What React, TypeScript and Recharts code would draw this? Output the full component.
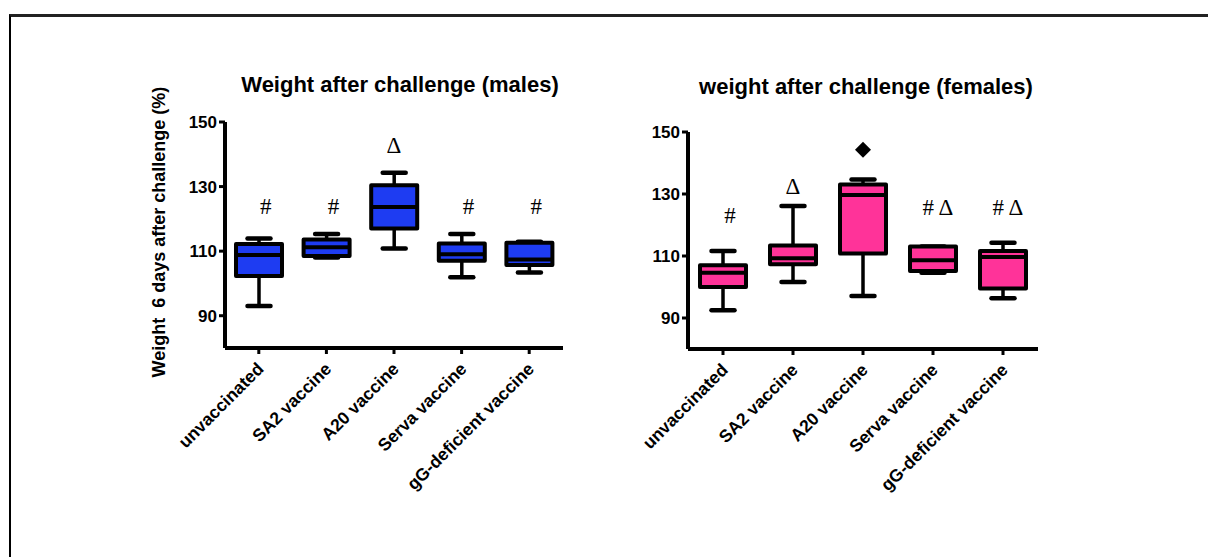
import React from 'react';
import { ComposedChart, Bar, Scatter, XAxis, YAxis } from 'recharts';

const categories = ['unvaccinated', 'SA2 vaccine', 'A20 vaccine', 'Serva vaccine', 'gG-deficient vaccine'];
const yTicks = [90, 110, 130, 150];

// males
const maleMin = [93, 108, 110.8, 101.9, 103.4];
const maleQ1 = [102.3, 108.5, 117, 107, 105.7];
const maleMedian = [108.8, 111.2, 123.7, 109, 107.4];
const maleQ3 = [112.2, 113.6, 130.4, 112.4, 112.6];
const maleMax = [113.9, 115.3, 134.3, 115.3, 112.9];
const maleMarks = ['#', '#', 'Δ', '#', '#'];
const maleMarkY = [123.7, 123.7, 142.8, 123.7, 123.7];
const maleOutlier: (number | null)[] = [null, null, null, null, null];

// females
const femMin = [92.5, 101.6, 97.1, 104.6, 96.4];
const femQ1 = [100, 107.3, 110.8, 105.2, 99.5];
const femMedian = [104.6, 109.3, 129.7, 108.6, 109.7];
const femQ3 = [107, 113.4, 133.1, 113.1, 111.6];
const femMax = [111.6, 126.1, 134.7, 113.1, 114.3];
const femMarks = ['#', 'Δ', '', '# Δ', '# Δ'];
const femMarkY: (number | null)[] = [123, 132.5, null, 125.8, 125.8];
const femOutlier: (number | null)[] = [null, null, 144.3, null, null];

const build = (min: number[], q1: number[], med: number[], q3: number[], max: number[], marks: string[], markY: (number | null)[], outl: (number | null)[]) =>
  categories.map((cat, i) => ({
    cat,
    min: min[i],
    q1: q1[i],
    median: med[i],
    q3: q3[i],
    max: max[i],
    mark: marks[i],
    markY: markY[i],
    outlier: outl[i],
  }));

const maleData = build(maleMin, maleQ1, maleMedian, maleQ3, maleMax, maleMarks, maleMarkY, maleOutlier);
const femData = build(femMin, femQ1, femMedian, femQ3, femMax, femMarks, femMarkY, femOutlier);

const SANS = '"Liberation Sans", Arial, sans-serif';
const SERIF = '"Liberation Serif", "Times New Roman", serif';

const BoxShape = (props: any) => {
  const { x, y, width, height, payload, fill } = props;
  if (!payload) return <g />;
  const top = Math.min(y, y + height);
  const bot = Math.max(y, y + height);
  const span = payload.max - payload.min || 1;
  const yOf = (v: number) => top + ((payload.max - v) / span) * (bot - top);
  const cx = x + width / 2;
  const cap = width * 0.5;
  return (
    <g>
      <line x1={cx} x2={cx} y1={yOf(payload.max)} y2={yOf(payload.q3)} stroke="#000" strokeWidth={3.5} />
      <line x1={cx} x2={cx} y1={yOf(payload.q1)} y2={yOf(payload.min)} stroke="#000" strokeWidth={3.5} />
      <line x1={cx - cap / 2} x2={cx + cap / 2} y1={yOf(payload.max)} y2={yOf(payload.max)} stroke="#000" strokeWidth={4.5} strokeLinecap="round" />
      <line x1={cx - cap / 2} x2={cx + cap / 2} y1={yOf(payload.min)} y2={yOf(payload.min)} stroke="#000" strokeWidth={4.5} strokeLinecap="round" />
      <rect x={x} y={yOf(payload.q3)} width={width} height={yOf(payload.q1) - yOf(payload.q3)} fill={fill} stroke="#000" strokeWidth={4} strokeLinejoin="round" />
      <line x1={x} x2={x + width} y1={yOf(payload.median)} y2={yOf(payload.median)} stroke="#000" strokeWidth={4} />
    </g>
  );
};

const MarkShape = (props: any) => {
  const { cx, cy, payload } = props;
  if (!payload || !payload.mark || !isFinite(cy)) return <g />;
  const dx = payload.mark === '#' ? 7 : payload.mark === '# Δ' ? 5 : 0;
  return (
    <text x={cx + dx} y={cy} textAnchor="middle" dominantBaseline="central" fontFamily={SERIF} fontSize={23} fill="#000">
      {payload.mark}
    </text>
  );
};

const DiamondShape = (props: any) => {
  const { cx, cy, payload } = props;
  if (!payload || payload.outlier == null || !isFinite(cy)) return <g />;
  const r = 8;
  return <polygon points={`${cx},${cy - r} ${cx + r},${cy} ${cx},${cy + r} ${cx - r},${cy}`} fill="#000" />;
};

const XTick = (props: any) => {
  const { x, y, payload } = props;
  return (
    <g transform={`translate(${x + 6},${y + 14}) rotate(-45)`}>
      <text x={0} y={0} textAnchor="end" fontFamily={SANS} fontWeight="bold" fontSize={17.5} fill="#000">
        {payload.value}
      </text>
    </g>
  );
};

const Panel = ({ data, fill, width, margin }: any) => (
  <ComposedChart width={width} height={440} data={data} margin={margin}>
    <XAxis
      dataKey="cat"
      type="category"
      interval={0}
      height={110}
      tickSize={6}
      axisLine={{ stroke: '#000', strokeWidth: 4 }}
      tickLine={{ stroke: '#000', strokeWidth: 3 }}
      tick={<XTick />}
    />
    <YAxis
      type="number"
      domain={[80, 150]}
      ticks={yTicks}
      width={50}
      tickSize={6}
      tickMargin={2}
      allowDataOverflow
      axisLine={{ stroke: '#000', strokeWidth: 4 }}
      tickLine={{ stroke: '#000', strokeWidth: 3 }}
      tick={{ fill: '#000', fontSize: 17, fontWeight: 'bold', fontFamily: SANS }}
    />
    <Bar dataKey={(d: any) => [d.min, d.max]} barSize={46} fill={fill} shape={<BoxShape />} isAnimationActive={false} />
    <Scatter dataKey="markY" shape={<MarkShape />} isAnimationActive={false} />
    <Scatter dataKey="outlier" shape={<DiamondShape />} isAnimationActive={false} />
  </ComposedChart>
);

export default function App() {
  return (
    <div style={{ position: 'absolute', left: 0, top: 0, width: 1208, height: 557, background: '#fff', overflow: 'hidden', fontFamily: SANS }}>
      <div style={{ position: 'absolute', left: 9, top: 14, width: 1300, height: 600, borderTop: '3px solid #222', borderLeft: '2px solid #000' }} />
      <div style={{ position: 'absolute', left: 200, top: 73, width: 400, textAlign: 'center', fontSize: 22, fontWeight: 'bold', lineHeight: '24px', color: '#000' }}>
        Weight after challenge (males)
      </div>
      <div style={{ position: 'absolute', left: 666, top: 75, width: 400, textAlign: 'center', fontSize: 22, fontWeight: 'bold', lineHeight: '24px', color: '#000' }}>
        weight after challenge (females)
      </div>
      <div
        style={{
          position: 'absolute',
          left: 159,
          top: 232,
          transform: 'translate(-50%, -50%) rotate(-90deg)',
          whiteSpace: 'pre',
          fontSize: 18,
          fontWeight: 'bold',
          color: '#000',
        }}
      >
        {'Weight  6 days after challenge (%)'}
      </div>
      <div style={{ position: 'absolute', left: 140, top: 60 }}>
        <Panel data={maleData} fill="#1e3cf2" width={440} margin={{ top: 62, right: 17, bottom: 42, left: 35 }} />
      </div>
      <div style={{ position: 'absolute', left: 600, top: 60 }}>
        <Panel data={femData} fill="#ff3399" width={460} margin={{ top: 72, right: 22, bottom: 41, left: 38 }} />
      </div>
    </div>
  );
}
